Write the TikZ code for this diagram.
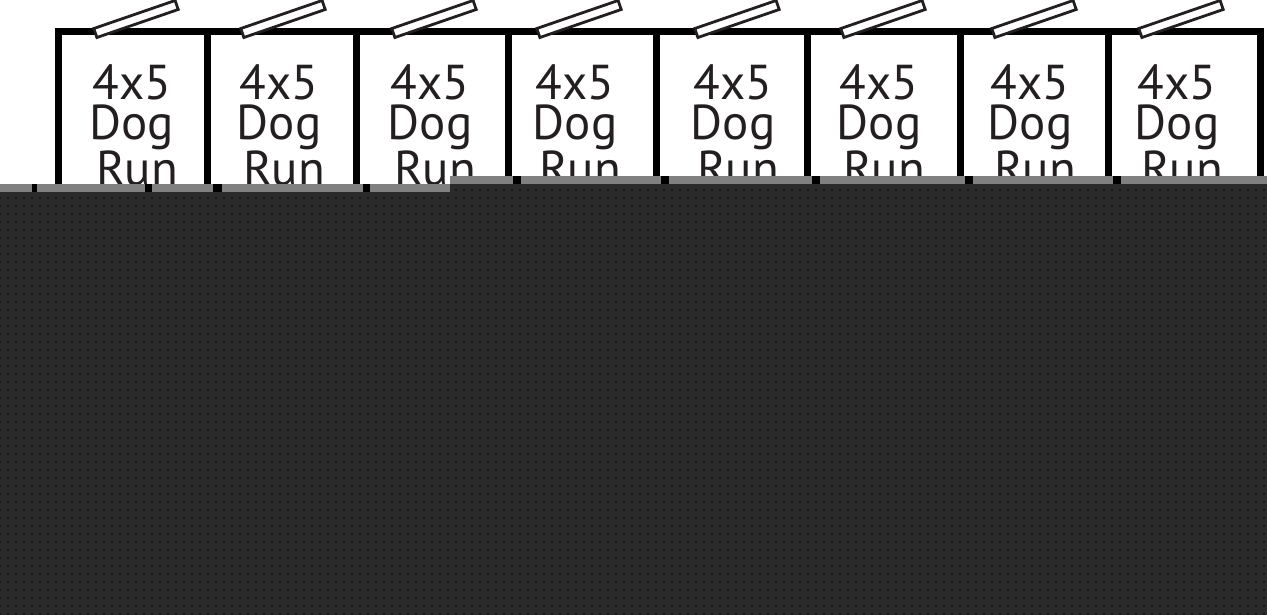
\documentclass[tikz,border=0pt]{standalone}
\usepackage{fontspec}
\setmainfont{PT Sans}
\usetikzlibrary{patterns.meta}
\definecolor{ink}{HTML}{231F20}
\definecolor{band}{HTML}{808080}
\definecolor{ground}{HTML}{2B2B2B}
\definecolor{speck}{HTML}{121212}
\tikzset{
  frame/.style={line width=7pt, draw=black, line join=miter},
  gate/.style={draw=ink, fill=white, line width=2.8pt, minimum width=86pt, minimum height=9.5pt, inner sep=0pt, rotate=19},
  runlabel/.style={font=\fontsize{49}{40.5}\selectfont, text=ink, align=center, anchor=north, inner sep=0pt},
  chip/.style={fill=black},
}
\begin{document}
\begin{tikzpicture}[x=1pt,y=-1pt]
\useasboundingbox (0,0) rectangle (1267,614);
\fill[white] (-5,-5) rectangle (1272,620);
% fence of the runs
\draw[frame] (58.5,200) -- (58.5,31) -- (1260,31) -- (1260,200);
\foreach \x in {207,356,508,656,807,960,1108} \draw[frame] (\x,31) -- (\x,200);
% labels and gates
\foreach \c [count=\i] in {136,283,434,579,737,883,1034,1181} {
  \node[runlabel] (label\i) at (\c-4,64) {4x5\\Dog\\\hspace*{10pt}Run};
  \node[gate] (gate\i) at (\c,19) {};
}
% grey band
\fill[band] (-5,184) rectangle (450,192);
\fill[band] (450,176) rectangle (1272,184);
\foreach \a/\b in {32/37,145/152,213/222,363/370} \fill[chip] (\a,184) rectangle (\b,192);
\foreach \x in {508,656,807,960,1108} \fill[chip] (\x+5,176) rectangle (\x+13,184);
% dark ground
\fill[ground] (-5,192) rectangle (450,620);
\fill[ground] (450,184) rectangle (1272,620);
\fill[pattern={Dots[distance=8pt,radius=1.1pt]}, pattern color=speck] (-5,192) rectangle (450,620);
\fill[pattern={Dots[distance=8pt,radius=1.1pt]}, pattern color=speck] (450,184) rectangle (1272,620);
\end{tikzpicture}
\end{document}
